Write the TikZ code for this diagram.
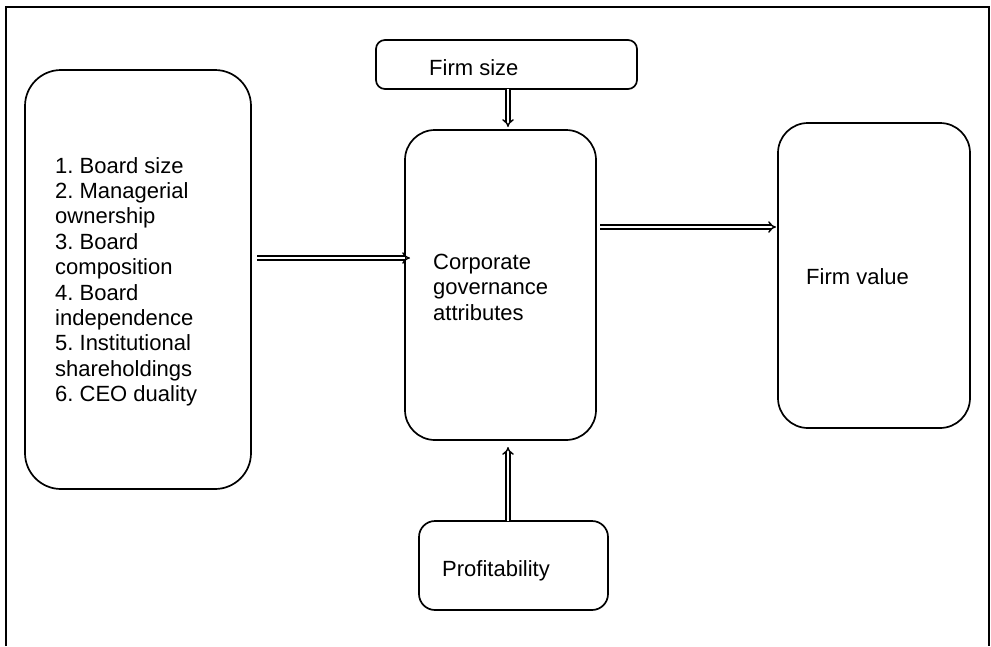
\documentclass[tikz,border=0pt]{standalone}
\usepackage{fontspec}
\setmainfont{Liberation Sans}
\usetikzlibrary{arrows.meta}
\frenchspacing
\begin{document}
\begin{tikzpicture}[x=1pt,y=-1pt,
  box/.style={draw, line width=1.7pt, rounded corners=#1, inner sep=0pt, outer sep=0pt},
  lbl/.style={font=\fontsize{22}{25.4}\selectfont, inner sep=0pt, align=left, anchor=north west},
  dbl/.style={double, line width=1.4pt, double distance=2.4pt, -{Implies[scale=1.4]}}]
\useasboundingbox (0,0) rectangle (991,646);
\draw[line width=1.6pt] (6,646) -- (6,7) -- (989,7) -- (989,646);
% boxes
\node[box=36pt, minimum width=226pt, minimum height=419pt, anchor=north west] (left) at (25,70) {};
\node[box=9pt, minimum width=261pt, minimum height=49pt, anchor=north west] (firmsize) at (376,40) {};
\node[box=30pt, minimum width=191pt, minimum height=310pt, anchor=north west] (cga) at (405,130) {};
\node[box=30pt, minimum width=192pt, minimum height=305pt, anchor=north west] (value) at (778,123) {};
\node[box=16pt, minimum width=189pt, minimum height=89pt, anchor=north west] (profit) at (419,521) {};
% texts
\node[lbl] (listtxt) at (55,157) {1. Board size\\2. Managerial\\ownership\\3. Board\\composition\\4. Board\\independence\\5. Institutional\\shareholdings\\6. CEO duality};
\node[lbl] (cgatxt) at (433,254) {Corporate\\governance\\attributes};
\node[lbl] (fstxt) at (429,59) {Firm size};
\node[lbl] (proftxt) at (442,560) {Profitability};
\node[lbl] (fvtxt) at (806,268) {Firm value};
% arrows
\draw[dbl] ([xshift=6pt]left.east |- 0,258) -- ([xshift=5pt]cga.west |- 0,258);
\draw[dbl] ([xshift=4pt]cga.east |- 0,227) -- ([xshift=-2pt]value.west |- 0,227);
\draw[dbl] (firmsize.south -| 508,0) -- ([yshift=3pt]cga.north -| 508,0);
\draw[dbl] (profit.north -| 508,0) -- ([yshift=-7pt]cga.south -| 508,0);
\end{tikzpicture}
\end{document}
